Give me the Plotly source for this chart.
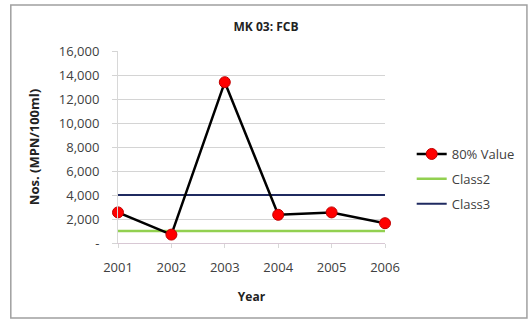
import plotly.graph_objects as go

# --- Data ---
years = [2001, 2002, 2003, 2004, 2005, 2006]
value_80 = [2550, 700, 13400, 2350, 2550, 1650]
class2 = [1000, 1000, 1000, 1000, 1000, 1000]
class3 = [4000, 4000, 4000, 4000, 4000, 4000]

y_ticks = [0, 2000, 4000, 6000, 8000, 10000, 12000, 14000, 16000]
y_ticktext = ["-", "2,000", "4,000", "6,000", "8,000", "10,000", "12,000", "14,000", "16,000"]

# --- Layout in pixels ---
W, H = 532, 323
L, R, T, B = 118, 145, 51, 80
pw, ph = W - L - R, H - T - B

def px_x(x):
    return (x - L) / pw

def px_y(y):
    return (H - B - y) / ph

FONT = "Open Sans"

fig = go.Figure()

fig.add_trace(go.Scatter(
    x=years, y=class2, mode="lines", name="Class2",
    line=dict(color="#92d050", width=2.5), legendgroup="b", legendrank=2,
))
fig.add_trace(go.Scatter(
    x=years, y=class3, mode="lines", name="Class3",
    line=dict(color="#1f2a60", width=2), legendgroup="c", legendrank=3,
))
# 80% series drawn last so it sits on top
fig.add_trace(go.Scatter(
    x=years, y=value_80, mode="lines+markers", name="80% Value",
    line=dict(color="#000000", width=2.5),
    marker=dict(size=11, color="#ff0000", line=dict(color="#c00000", width=1)),
    cliponaxis=False, legendgroup="a", legendrank=1,
))

fig.update_layout(
    width=W, height=H,
    margin=dict(l=L, r=R, t=T, b=B),
    paper_bgcolor="white", plot_bgcolor="white",
    font=dict(family=FONT, size=13, color="#404040"),
    title=dict(text="<b>MK 03: FCB</b>", x=0.5, xref="container", xanchor="center",
               y=1 - 27 / H, yanchor="middle", yref="container",
               font=dict(size=12, color="#222222")),
    showlegend=True,
    legend=dict(x=1.1, y=px_y(139), xanchor="left", yanchor="top",
                traceorder="grouped", tracegroupgap=5,
                font=dict(size=13, color="#404040"), bgcolor="rgba(0,0,0,0)"),
    xaxis=dict(range=[2001, 2006], tickvals=years, showgrid=False,
               showline=True, linecolor="#d8c8d4", linewidth=1,
               ticks="outside", ticklen=4, tickcolor="#d8d8d8",
               ticklabelstandoff=8, zeroline=False,
               title=dict(text="<b>Year</b>", font=dict(size=12, color="#222222"), standoff=18)),
    yaxis=dict(range=[0, 16000], tickvals=y_ticks, ticktext=y_ticktext,
               showgrid=True, gridcolor="#d4d4d4", gridwidth=1,
               showline=True, linecolor="#d8d8d8", linewidth=1,
               ticks="outside", ticklen=5, tickcolor="#d4d4d4",
               ticklabelstandoff=10, zeroline=False,
               title=dict(text="<b>Nos. (MPN/100ml)</b>", font=dict(size=13, color="#222222"), standoff=16)),
)

# outer chart frame
fig.add_shape(type="rect", xref="paper", yref="paper",
              x0=px_x(10), x1=px_x(530), y0=px_y(318), y1=px_y(5),
              line=dict(color="#a0a0a0", width=1.5), layer="below")

fig.write_html("out.html", config={"displayModeBar": False},
               post_script="document.body.style.margin='0';")
